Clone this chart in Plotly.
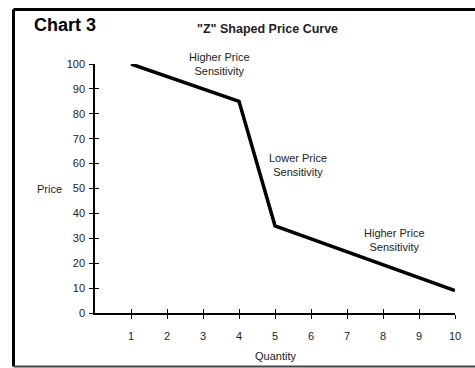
import plotly.graph_objects as go

quantity = [1, 4, 5, 10]
price = [100, 85, 35, 9]
x_ticks = [1, 2, 3, 4, 5, 6, 7, 8, 9, 10]
y_ticks = [0, 10, 20, 30, 40, 50, 60, 70, 80, 90, 100]

labels = [
    ("Higher Price<br>Sensitivity", 3.47, 100.2),
    ("Lower Price<br>Sensitivity", 5.64, 59.6),
    ("Higher Price<br>Sensitivity", 8.33, 29.4),
]

FONT = "Liberation Sans, Arial, sans-serif"
TXT = "#222"
Y_MAX = 100

fig = go.Figure()
fig.add_trace(go.Scatter(x=quantity, y=price, mode="lines",
                         line=dict(color="black", width=3.5),
                         hoverinfo="skip", showlegend=False, cliponaxis=False))
fig.add_trace(go.Scatter(x=quantity, y=price, mode="lines", xaxis="x2", yaxis="y2",
                         line=dict(color="rgba(0,0,0,0)", width=0),
                         hoverinfo="skip", showlegend=False))

axis_common = dict(showgrid=False, zeroline=False, tickcolor="black", tickwidth=1.3, ticklen=4)

fig.update_layout(
    width=475, height=368,
    margin=dict(l=95, r=20, t=64, b=55),
    paper_bgcolor="white", plot_bgcolor="white",
    font=dict(family=FONT, size=11, color=TXT),
    hovermode=False,
    xaxis=dict(range=[0, 10], tickvals=x_ticks, ticks="outside", showline=True,
               linecolor="black", linewidth=1.5, ticklabelstandoff=8,
               tickfont=dict(size=11, color=TXT), **axis_common),
    yaxis=dict(range=[0, Y_MAX], tickvals=y_ticks, ticks="outside", showline=True,
               linecolor="black", linewidth=1.5, ticklabelstandoff=2,
               tickfont=dict(size=11, color=TXT), **axis_common),
    xaxis2=dict(range=[0, 10], tickvals=x_ticks, ticks="inside", overlaying="x",
                anchor="y2", showline=False, showticklabels=False, **axis_common),
    yaxis2=dict(range=[0, Y_MAX], tickvals=y_ticks, ticks="inside", overlaying="y",
                anchor="x2", showline=False, showticklabels=False, **axis_common),
)

for text, x, y in labels:
    fig.add_annotation(text=text, x=x, y=y / Y_MAX, xref="x", yref="paper", showarrow=False,
                       xanchor="center", yanchor="middle",
                       font=dict(family=FONT, size=11, color=TXT), align="center")

fig.add_annotation(text="Price", x=(49 - 95) / 360, y=0.5, xref="paper", yref="paper",
                   showarrow=False, xanchor="center", yanchor="middle",
                   font=dict(size=11, color=TXT))
fig.add_annotation(text="Quantity", x=5, y=(313 - 356) / 249, xref="x", yref="paper",
                   showarrow=False, xanchor="center", yanchor="middle",
                   font=dict(size=11, color=TXT))
fig.add_annotation(text="<b>Chart 3</b>", x=(65 - 95) / 360, y=(313 - 25) / 249,
                   xref="paper", yref="paper", showarrow=False,
                   xanchor="center", yanchor="middle",
                   font=dict(size=18, color="black"))
fig.add_annotation(text="<b>\"Z\" Shaped Price Curve</b>", x=(267 - 95) / 360, y=(313 - 29) / 249,
                   xref="paper", yref="paper", showarrow=False,
                   xanchor="center", yanchor="middle",
                   font=dict(size=12.5, color=TXT))

# frame around the chart
left, right = (13.5 - 95) / 360, (480 - 95) / 360
top, bottom = (313 - 9.5) / 249, (313 - 366.5) / 249
fig.add_shape(type="line", xref="paper", yref="paper", x0=left, x1=right, y0=top, y1=top,
              line=dict(color="black", width=3))
fig.add_shape(type="line", xref="paper", yref="paper", x0=left, x1=left, y0=top, y1=bottom,
              line=dict(color="black", width=3))
fig.add_shape(type="line", xref="paper", yref="paper", x0=left, x1=right, y0=bottom, y1=bottom,
              line=dict(color="#444", width=2))

fig.write_html("out.html", config={"displayModeBar": False},
               post_script="document.body.style.margin='0px';document.body.style.overflow='hidden';")
